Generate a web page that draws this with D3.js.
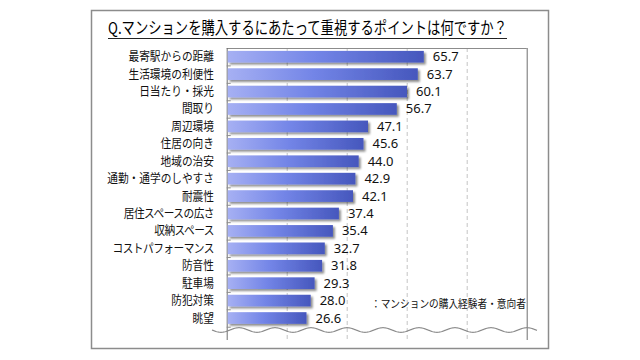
<!DOCTYPE html>
<html><head><meta charset="utf-8">
<script src="https://cdn.jsdelivr.net/npm/d3@7"></script>
<style>body{margin:0;background:#fff;}svg{display:block;}</style>
</head><body>
<svg id="c" width="640" height="360"></svg>
<script>
const categories = ["最寄駅からの距離","生活環境の利便性","日当たり・採光","間取り","周辺環境","住居の向き","地域の治安","通勤・通学のしやすさ","耐震性","居住スペースの広さ","収納スペース","コストパフォーマンス","防音性","駐車場","防犯対策","眺望"];
const values = [65.7,63.7,60.1,56.7,47.1,45.6,44.0,42.9,42.1,37.4,35.4,32.7,31.8,29.3,28.0,26.6];
const xTicks = [0,20,40,60,80,100];
const title = "Q.マンションを購入するにあたって重視するポイントは何ですか？";
const note = "：マンションの購入経験者・意向者";

const svg = d3.select("#c");
const JP = "'Noto Sans CJK JP','Noto Sans',sans-serif";

// outer frame
svg.append("rect").attr("x",91.5).attr("y",10.5).attr("width",457).attr("height",338)
  .attr("fill","#fff").attr("stroke","#8c8c8c").attr("stroke-width",1.5);

// title
svg.append("text").attr("x",108).attr("y",34).attr("font-family",JP).attr("font-size",16.5)
  .attr("textLength",399).attr("lengthAdjust","spacingAndGlyphs").attr("fill","#000").text(title);
svg.append("line").attr("x1",108).attr("x2",507).attr("y1",38.5).attr("y2",38.5)
  .attr("stroke","#222").attr("stroke-width",1);

const x = d3.scaleLinear().domain([0,100]).range([226.7,526.7]);
const step = 17.42;
const y = d3.scaleBand().domain(categories).range([48,48+16*step]).paddingInner(0.33).paddingOuter(0.165);
const plotTop = 48, plotBottom = 340;

// gradient
const defs = svg.append("defs");
const g = defs.append("linearGradient").attr("id","bg").attr("x1","0%").attr("x2","100%").attr("y1","0").attr("y2","0");
g.append("stop").attr("offset","0%").attr("stop-color","#a6b0f3");
g.append("stop").attr("offset","45%").attr("stop-color","#7385e7");
g.append("stop").attr("offset","100%").attr("stop-color","#4657bd");
const f = defs.append("filter").attr("id","sh").attr("x","-5%").attr("y","-30%").attr("width","115%").attr("height","180%");
f.append("feGaussianBlur").attr("in","SourceAlpha").attr("stdDeviation",1);
f.append("feOffset").attr("dx",2).attr("dy",2).attr("result","o");
f.append("feComponentTransfer").append("feFuncA").attr("type","linear").attr("slope",0.45);
const fm = f.append("feMerge"); fm.append("feMergeNode"); fm.append("feMergeNode").attr("in","SourceGraphic");

// gridlines
svg.append("g").selectAll("line").data(xTicks.slice(1,-1)).join("line")
  .attr("x1",d=>x(d)+0.5).attr("x2",d=>x(d)+0.5).attr("y1",plotTop).attr("y2",plotBottom)
  .attr("stroke","#c4c4c4").attr("stroke-dasharray","4,3");

// plot frame: top, right, left axis
svg.append("line").attr("x1",x(0)).attr("x2",x(100)).attr("y1",plotTop+0.5).attr("y2",plotTop+0.5).attr("stroke","#8c8c8c");
svg.append("line").attr("x1",x(100)+0.5).attr("x2",x(100)+0.5).attr("y1",plotTop).attr("y2",plotBottom).attr("stroke","#6e6e6e");
svg.append("line").attr("x1",x(0)+0.5).attr("x2",x(0)+0.5).attr("y1",plotTop).attr("y2",plotBottom).attr("stroke","#6e6e6e");
// small ticks at band boundaries
svg.append("g").selectAll("line").data(categories).join("line")
  .attr("x1",x(0)).attr("x2",x(0)+4).attr("y1",d=>y(d)-y.step()*0.165+step+0.5).attr("y2",d=>y(d)-y.step()*0.165+step+0.5)
  .attr("stroke","#8c8c8c");

// bars
svg.append("g").selectAll("rect").data(values).join("rect")
  .attr("x",x(0)+1).attr("y",(d,i)=>y(categories[i]))
  .attr("width",d=>x(d)-x(0)-1).attr("height",y.bandwidth())
  .attr("fill","url(#bg)").attr("filter","url(#sh)");

// value labels
svg.append("g").selectAll("text").data(values).join("text")
  .attr("x",d=>x(d)+9).attr("y",(d,i)=>y(categories[i])+y.bandwidth()/2+4.5)
  .attr("font-family","'Noto Sans','DejaVu Sans',sans-serif").attr("font-size",13).attr("fill","#111")
  .text(d=>d.toFixed(1));

// category labels
svg.append("g").selectAll("text").data(categories).join("text")
  .attr("transform",d=>`translate(214,${y(d)+y.bandwidth()/2+4.5}) scale(0.87,1)`)
  .attr("text-anchor","end").attr("font-family",JP).attr("font-size",12.3).attr("fill","#111")
  .attr("letter-spacing",d=>/[ァ-ヶー]{3,}/.test(d) ? -0.6 : 0)
  .text(d=>d);

// wavy break line
const waveY = 330, amp = 2.3, wl = 36;
const pts = d3.range(212, 538, 1).map(px=>[px, waveY + amp*Math.sin((px-212)/wl*2*Math.PI)]);
svg.append("path").attr("d",d3.line()(pts)).attr("fill","none").attr("stroke","#8a8a8a").attr("stroke-width",1.2);

// note
svg.append("text").attr("transform","translate(371,308) scale(0.88,1)").attr("font-family",JP)
  .attr("font-size",11).attr("fill","#111").text(note);
</script>
</body></html>
